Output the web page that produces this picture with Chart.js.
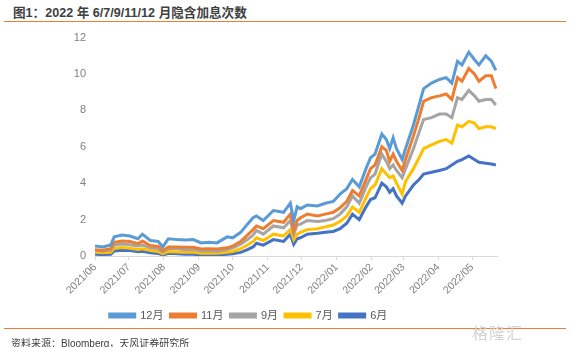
<!DOCTYPE html>
<html>
<head>
<meta charset="utf-8">
<script src="https://cdn.jsdelivr.net/npm/chart.js@4"></script>
<style>
body { margin: 0; width: 571px; height: 347px; background: #fff; position: relative; overflow: hidden;
  font-family: "Liberation Sans", "Noto Sans CJK SC", sans-serif; }
#title { position: absolute; left: 13px; top: 2px; font-size: 12.6px; font-weight: bold; color: #404040; }
.rule { position: absolute; left: 4px; width: 562px; height: 1px; background: #ED7D31; }
#src { position: absolute; left: 11px; top: 335px; font-size: 10px; color: #404040; }
#mark { position: absolute; left: 472px; top: 320px; font-size: 16px; color: #d4d4d4; letter-spacing: 1px; }
#box { position: absolute; left: 0; top: 22px; width: 571px; height: 309px; }
</style>
</head>
<body>
<div id="title">图1：2022 年 6/7/9/11/12 月隐含加息次数</div>
<div class="rule" style="top:21px"></div>
<div id="box"><canvas id="myChart"></canvas></div>
<div class="rule" style="top:328px"></div>
<div id="src">资料来源：Bloomberg，天风证券研究所</div>
<div id="mark">格隆汇</div>
<script>
const monthLabels = ["2021/06", "2021/07", "2021/08", "2021/09", "2021/10", "2021/11",
  "2021/12", "2022/01", "2022/02", "2022/03", "2022/04", "2022/05"];

const dates = [
  "2021-06-01", "2021-06-08", "2021-06-15", "2021-06-18", "2021-06-25", "2021-07-02",
  "2021-07-09", "2021-07-13", "2021-07-20", "2021-07-27", "2021-07-31", "2021-08-05",
  "2021-08-13", "2021-08-20", "2021-08-27", "2021-09-03", "2021-09-10", "2021-09-17",
  "2021-09-26", "2021-10-01", "2021-10-08", "2021-10-14", "2021-10-19", "2021-10-22",
  "2021-10-28", "2021-11-06", "2021-11-15", "2021-11-21", "2021-11-24", "2021-11-27",
  "2021-11-30", "2021-12-06", "2021-12-15", "2021-12-22", "2021-12-29", "2022-01-04",
  "2022-01-10", "2022-01-15", "2022-01-21", "2022-01-27", "2022-01-31", "2022-02-04",
  "2022-02-10", "2022-02-14", "2022-02-17", "2022-02-20", "2022-02-23", "2022-02-28",
  "2022-03-03", "2022-03-10", "2022-03-15", "2022-03-19", "2022-03-26", "2022-04-02",
  "2022-04-08", "2022-04-13", "2022-04-18", "2022-04-22", "2022-04-28", "2022-05-03",
  "2022-05-07", "2022-05-13", "2022-05-18", "2022-05-22"];

const dec = [0.55, 0.50, 0.60, 1.05, 1.15, 1.10, 0.95, 1.20, 0.85, 0.80, 0.50, 0.95,
  0.90, 0.88, 0.90, 0.72, 0.75, 0.72, 1.05, 1.00, 1.30, 1.75, 2.10, 2.20,
  1.95, 2.50, 2.40, 2.90, 1.95, 2.70, 2.60, 2.80, 2.75, 2.90, 3.00, 3.40,
  3.70, 4.20, 3.80, 4.80, 5.40, 5.60, 6.70, 6.40, 5.90, 6.50, 5.90, 5.30,
  5.90, 7.20, 8.30, 9.20, 9.50, 9.70, 9.80, 9.50, 10.70, 10.50, 11.20, 10.80,
  10.50, 11.00, 10.70, 10.20];
const nov = [0.35, 0.32, 0.40, 0.75, 0.82, 0.80, 0.68, 0.82, 0.58, 0.52, 0.28, 0.50,
  0.50, 0.48, 0.48, 0.38, 0.40, 0.38, 0.45, 0.55, 0.80, 1.15, 1.45, 1.65,
  1.50, 1.95, 1.85, 2.30, 1.40, 1.95, 2.10, 2.30, 2.20, 2.30, 2.40, 2.65,
  3.00, 3.60, 3.30, 4.20, 4.80, 5.00, 6.00, 5.80, 5.20, 5.60, 5.20, 4.70,
  5.30, 6.60, 7.60, 8.50, 8.70, 8.80, 8.90, 8.60, 9.80, 9.60, 10.30, 10.00,
  9.60, 9.90, 9.90, 9.20];
const sep = [0.30, 0.28, 0.32, 0.60, 0.66, 0.62, 0.55, 0.60, 0.45, 0.40, 0.22, 0.42,
  0.40, 0.35, 0.35, 0.27, 0.28, 0.26, 0.35, 0.45, 0.65, 0.90, 1.15, 1.40,
  1.20, 1.65, 1.55, 1.95, 1.20, 1.70, 1.75, 1.95, 1.90, 1.95, 2.05, 2.30,
  2.70, 3.30, 2.90, 3.80, 4.30, 4.50, 5.60, 5.20, 4.80, 5.00, 4.70, 4.30,
  4.80, 5.90, 6.80, 7.50, 7.60, 7.80, 7.80, 7.60, 8.70, 8.60, 9.10, 8.80,
  8.50, 8.60, 8.60, 8.30];
const jul = [0.20, 0.18, 0.20, 0.42, 0.46, 0.42, 0.36, 0.40, 0.30, 0.25, 0.12, 0.25,
  0.22, 0.20, 0.20, 0.15, 0.16, 0.15, 0.20, 0.25, 0.40, 0.60, 0.80, 1.00,
  0.85, 1.20, 1.10, 1.45, 0.90, 1.20, 1.30, 1.45, 1.50, 1.60, 1.70, 1.90,
  2.20, 2.70, 2.40, 3.20, 3.70, 3.90, 4.80, 4.50, 4.30, 4.40, 4.00, 3.40,
  4.10, 4.80, 5.40, 5.90, 6.10, 6.30, 6.40, 6.20, 7.20, 7.10, 7.40, 7.30,
  7.00, 7.10, 7.10, 7.00];
const jun = [0.10, 0.08, 0.10, 0.28, 0.32, 0.30, 0.24, 0.26, 0.18, 0.14, 0.05, 0.15,
  0.12, 0.10, 0.10, 0.05, 0.06, 0.05, 0.10, 0.12, 0.20, 0.35, 0.50, 0.70,
  0.60, 0.90, 0.80, 1.20, 0.65, 0.95, 1.00, 1.20, 1.25, 1.30, 1.35, 1.50,
  1.80, 2.30, 2.00, 2.70, 3.10, 3.20, 4.00, 3.80, 3.50, 3.70, 3.30, 2.90,
  3.30, 3.90, 4.20, 4.50, 4.60, 4.70, 4.80, 5.00, 5.20, 5.30, 5.50, 5.30,
  5.15, 5.10, 5.05, 5.00];

const seriesNames = ["12月", "11月", "9月", "7月", "6月"];
const seriesColors = ["#5B9BD5", "#ED7D31", "#A5A5A5", "#FFC000", "#4472C4"];

// days since 2021-06-01, so months land where a date axis puts them
const t0 = Date.UTC(2021, 5, 1);
const dayOf = (y, m, d) => (Date.UTC(y, m - 1, d) - t0) / 86400000;
const monthStarts = monthLabels.map(s => dayOf(+s.slice(0, 4), +s.slice(5, 7), 1));
const xDays = dates.map(s => dayOf(+s.slice(0, 4), +s.slice(5, 7), +s.slice(8, 10)));

const toPoints = vals => vals.map((v, i) => ({ x: xDays[i], y: v }));

const ctx = document.getElementById("myChart");

new Chart(ctx, {
  type: "line",
  data: {
    datasets: [dec, nov, sep, jul, jun].map((vals, i) => ({
      label: seriesNames[i],
      data: toPoints(vals),
      borderColor: seriesColors[i],
      backgroundColor: seriesColors[i],
      borderWidth: 3,
      pointRadius: 0,
      tension: 0,
    })),
  },
  options: {
    responsive: true,
    maintainAspectRatio: false,
    animation: false,
    layout: { padding: { top: 15, right: 74, left: 0, bottom: 0 } },
    plugins: {
      tooltip: { enabled: false },
      legend: {
        position: "bottom",
        labels: {
          boxWidth: 25,
          boxHeight: 3,
          padding: 7,
          color: "#595959",
          font: { size: 11, family: "'Liberation Sans', 'Noto Sans CJK SC', sans-serif" },
        },
      },
    },
    scales: {
      x: {
        type: "linear",
        min: 0,
        max: 356,
        afterBuildTicks: (s) => { s.ticks = monthStarts.map(v => ({ value: v })); },
        afterFit: (s) => { s.height = 47; },
        ticks: {
          callback: (v, i) => monthLabels[i],
          minRotation: 45,
          maxRotation: 45,
          autoSkip: false,
          padding: 1,
          color: "#808080",
          font: { size: 10.5, family: "'Liberation Sans', sans-serif" },
        },
        grid: { drawOnChartArea: false, color: "#d9d9d9", tickLength: 4 },
        border: { color: "#d9d9d9" },
      },
      y: {
        min: 0,
        max: 12,
        afterFit: (s) => { s.width = 95; },
        ticks: {
          stepSize: 2,
          padding: 9,
          color: "#808080",
          font: { size: 11, family: "'Liberation Sans', sans-serif" },
        },
        grid: { display: false, drawTicks: false },
        border: { display: false },
      },
    },
  },
});
</script>
</body>
</html>
